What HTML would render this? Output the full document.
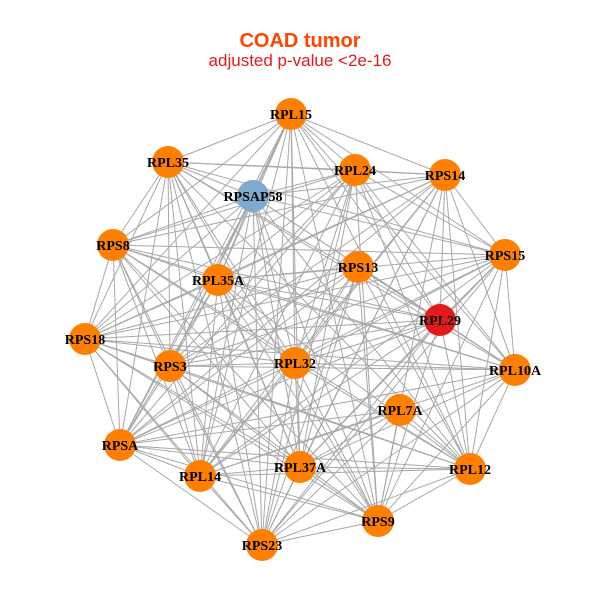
<!DOCTYPE html>
<html><head><meta charset="utf-8"><style>
html,body{margin:0;padding:0;background:#fff;}
svg{display:block;}
text{font-family:"Liberation Serif",serif;font-weight:bold;font-size:14px;fill:#000;}
</style></head><body>
<svg id="s" width="600" height="600" viewBox="0 0 600 600" xmlns="http://www.w3.org/2000/svg">
<rect width="600" height="600" fill="#fff"/>
<text x="300" y="47" text-anchor="middle" style="font-family:'Liberation Sans',sans-serif;font-size:20px;fill:#FF4500;font-weight:bold">COAD tumor</text>
<text x="300" y="66" text-anchor="middle" style="font-family:'Liberation Sans',sans-serif;font-size:17px;fill:#E31A1C;font-weight:normal">adjusted p-value &lt;2e-16</text>
<g id="edges" stroke="#a8a8a8" stroke-width="1"></g>
<g id="nodes">
<circle cx="291" cy="114" r="16" fill="#FF7F00"/>
<circle cx="168" cy="162" r="16" fill="#FF7F00"/>
<circle cx="253" cy="196" r="16" fill="#7FAAD0"/>
<circle cx="355" cy="170" r="16" fill="#FF7F00"/>
<circle cx="445" cy="175" r="16" fill="#FF7F00"/>
<circle cx="113" cy="245" r="16" fill="#FF7F00"/>
<circle cx="505" cy="255" r="16" fill="#FF7F00"/>
<circle cx="358" cy="267" r="16" fill="#FF7F00"/>
<circle cx="218" cy="280" r="16" fill="#FF7F00"/>
<circle cx="440" cy="320" r="16" fill="#E31A1C"/>
<circle cx="85" cy="339" r="16" fill="#FF7F00"/>
<circle cx="170" cy="366" r="16" fill="#FF7F00"/>
<circle cx="295" cy="363" r="16" fill="#FF7F00"/>
<circle cx="515" cy="370" r="16" fill="#FF7F00"/>
<circle cx="400" cy="410" r="16" fill="#FF7F00"/>
<circle cx="120" cy="445" r="16" fill="#FF7F00"/>
<circle cx="200" cy="476" r="16" fill="#FF7F00"/>
<circle cx="300" cy="467" r="16" fill="#FF7F00"/>
<circle cx="470" cy="469" r="16" fill="#FF7F00"/>
<circle cx="378" cy="521" r="16" fill="#FF7F00"/>
<circle cx="262" cy="545" r="16" fill="#FF7F00"/>
</g>
<g text-anchor="middle">
<text x="291" y="119">RPL15</text>
<text x="168" y="167">RPL35</text>
<text x="253" y="201">RPSAP58</text>
<text x="355" y="175">RPL24</text>
<text x="445" y="180">RPS14</text>
<text x="113" y="250">RPS8</text>
<text x="505" y="260">RPS15</text>
<text x="358" y="272">RPS13</text>
<text x="218" y="285">RPL35A</text>
<text x="440" y="325">RPL29</text>
<text x="85" y="344">RPS18</text>
<text x="170" y="371">RPS3</text>
<text x="295" y="368">RPL32</text>
<text x="515" y="375">RPL10A</text>
<text x="400" y="415">RPL7A</text>
<text x="120" y="450">RPSA</text>
<text x="200" y="481">RPL14</text>
<text x="300" y="472">RPL37A</text>
<text x="470" y="474">RPL12</text>
<text x="378" y="526">RPS9</text>
<text x="262" y="550">RPS23</text>
</g>
</svg>
<script>
var c=document.querySelectorAll('#nodes circle'),g=document.getElementById('edges'),ns='http://www.w3.org/2000/svg';
for(var i=0;i<c.length;i++)for(var j=i+1;j<c.length;j++){
 if((i*7+j*3)%7==0)continue;
 var l=document.createElementNS(ns,'line');
 l.setAttribute('x1',c[i].getAttribute('cx'));l.setAttribute('y1',c[i].getAttribute('cy'));
 l.setAttribute('x2',c[j].getAttribute('cx'));l.setAttribute('y2',c[j].getAttribute('cy'));
 g.appendChild(l);}
</script>
</body></html>
